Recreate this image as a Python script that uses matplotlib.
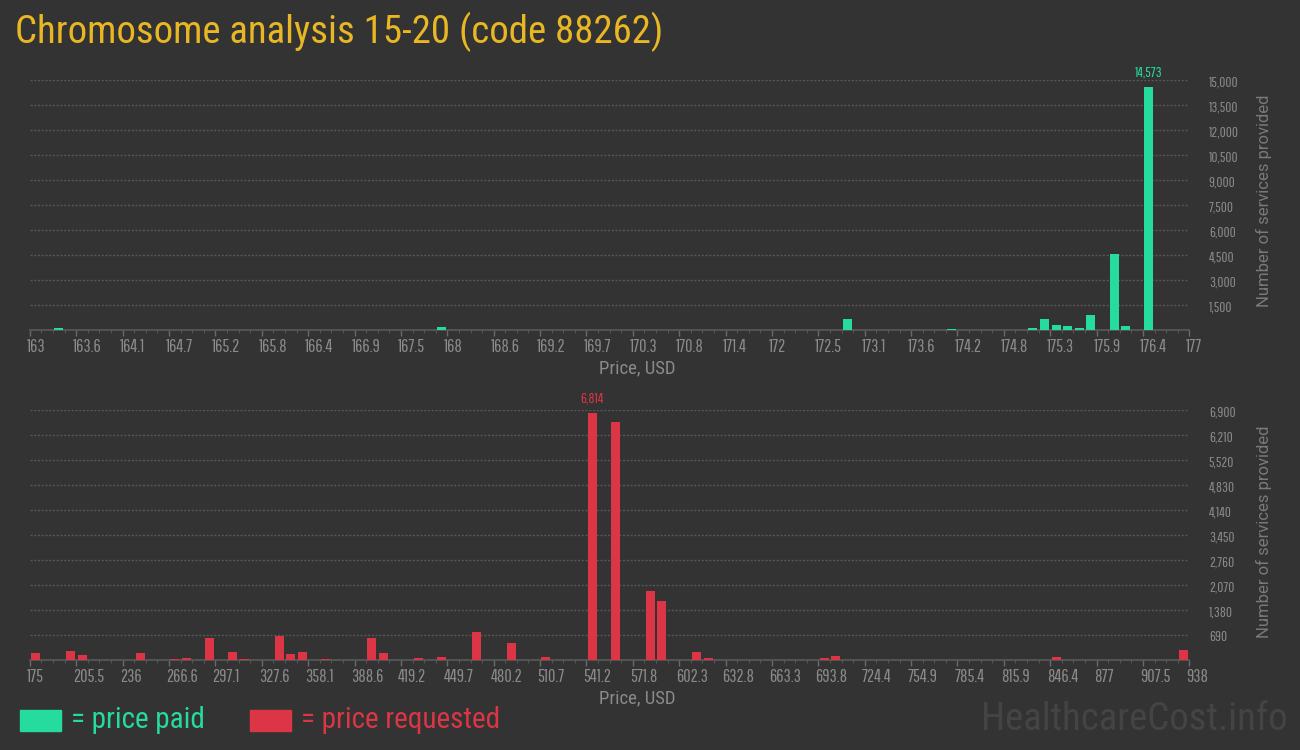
import matplotlib
matplotlib.use('Agg')
import matplotlib.pyplot as plt
import matplotlib.transforms as mtransforms
from matplotlib.ticker import FuncFormatter, FixedLocator
from matplotlib.patches import Rectangle
import numpy as np

# ---- data ----
title = "Chromosome analysis 15-20 (code 88262)"
paid_range = (163.0, 177.0)
paid_prices = [163.35, 167.97, 169.93, 172.73, 172.87, 174.13, 175.11, 175.25,
               175.39, 175.53, 175.67, 175.81, 176.09, 176.23, 176.51]
paid_counts = [140, 200, 40, 40, 680, 100, 140, 680, 320, 260, 140, 920, 4600, 260, 14573]
paid_yticks = [1500, 3000, 4500, 6000, 7500, 9000, 10500, 12000, 13500, 15000]

req_range = (175.0, 938.0)
req_prices = [178.8, 201.7, 209.3, 247.5, 270.4, 278.0, 293.3, 308.5, 316.2, 339.0,
              346.7, 354.3, 369.6, 392.5, 400.1, 407.7, 430.6, 445.9, 461.1, 468.8,
              491.7, 514.5, 545.1, 560.3, 575.6, 583.2, 590.8, 606.1, 613.7, 621.4,
              697.7, 705.3, 728.2, 850.3, 934.2]
req_counts = [202, 258, 147, 202, 37, 64, 616, 230, 45, 672,
              175, 230, 37, 10, 616, 202, 64, 92, 15, 782,
              478, 92, 6814, 6578, 20, 1914, 1638, 20, 230, 64,
              64, 120, 15, 92, 285]
req_yticks = [690, 1380, 2070, 2760, 3450, 4140, 4830, 5520, 6210, 6900]

n_bins = 100
n_major = 25

# ---- style ----
BG = '#333333'
GREEN = '#26DB9E'
RED = '#DC3545'
GOLD = '#E8B723'
GRID = '#575757'
TICKC = '#8a8a8a'
COND = ['Roboto Condensed', 'DejaVu Sans']
THIN = ['Pathway Gothic One', 'Roboto Condensed', 'DejaVu Sans']

fig = plt.figure(figsize=(13, 7.5), dpi=100, facecolor=BG)

def panel(rect, rng, prices, counts, yticks, color):
    ax = fig.add_axes(rect)
    ax.set_facecolor(BG)
    lo, hi = rng
    bw = (hi - lo) / n_bins
    ax.bar(prices, counts, width=bw * 0.78, color=color, zorder=3)
    ax.set_xlim(lo, hi)
    ax.set_ylim(0, yticks[-1])
    for s in ['top', 'left', 'right']:
        ax.spines[s].set_visible(False)
    ax.spines['bottom'].set_color('#5a5a5a')
    ax.spines['bottom'].set_linewidth(1.2)
    major = np.linspace(lo, hi, n_major + 1)
    minor = np.linspace(lo, hi, n_bins + 1)
    ax.xaxis.set_major_locator(FixedLocator(major))
    ax.xaxis.set_minor_locator(FixedLocator(minor))
    ax.xaxis.set_major_formatter(FuncFormatter(lambda v, p: f"{round(v, 1):g}"))
    ax.tick_params(axis='x', which='major', length=4, width=1, color='#6a6a6a',
                   labelcolor=TICKC, labelsize=13, pad=2.5)
    ax.tick_params(axis='x', which='minor', length=2.2, width=0.8, color='#555555')
    off = mtransforms.ScaledTranslation(-3 / 100, 0, fig.dpi_scale_trans)
    for lab in ax.get_xticklabels():
        lab.set_horizontalalignment('left')
        lab.set_fontfamily(THIN)
        lab.set_transform(lab.get_transform() + off)
    ax.yaxis.tick_right()
    ax.set_yticks(yticks)
    ax.yaxis.set_major_formatter(FuncFormatter(lambda v, p: f"{int(v):,}"))
    ax.tick_params(axis='y', length=0, pad=14, labelcolor=TICKC, labelsize=10.5)
    for lab in ax.get_yticklabels():
        lab.set_fontfamily(THIN)
        lab.set_horizontalalignment('left')
    ax.grid(axis='y', color=GRID, linestyle=(0, (1.5, 1.2)), linewidth=1.0, zorder=0)
    # peak label
    i = int(np.argmax(counts))
    ax.annotate(f"{counts[i]:,}", (prices[i], counts[i]), xytext=(0, 6),
                textcoords='offset points', ha='center', va='bottom',
                color=color, fontsize=10.5, family=THIN, annotation_clip=False)
    return ax

ax1 = panel([29.9 / 1300, 1 - 330.3 / 750, 1159.5 / 1300, 250 / 750],
            paid_range, paid_prices, paid_counts, paid_yticks, GREEN)
ax2 = panel([29.9 / 1300, 1 - 660.3 / 750, 1159.5 / 1300, 250 / 750],
            req_range, req_prices, req_counts, req_yticks, RED)

# axis titles
for yc in (368, 698):
    fig.text(637 / 1300, 1 - yc / 750, "Price, USD", ha='center', va='center',
             color='#8a8a8a', fontsize=13.5, family=COND)
for yc in (201, 532):
    fig.text(1264 / 1300, 1 - yc / 750, "Number of services provided", rotation=90,
             ha='center', va='center', color='#7a7a7a', fontsize=12, family=['Roboto', 'DejaVu Sans'])

# title
fig.text(15 / 1300, 1 - 32 / 750, title, ha='left', va='center', color=GOLD,
         fontsize=28, family=COND)

# legend
fig.patches.append(Rectangle((20 / 1300, 1 - 731 / 750), 41 / 1300, 21 / 750,
                             transform=fig.transFigure, color=GREEN))
fig.text(71 / 1300, 1 - 720 / 750, "= price paid", ha='left', va='center', color=GREEN,
         fontsize=21, family=COND)
fig.patches.append(Rectangle((250 / 1300, 1 - 731 / 750), 41 / 1300, 21 / 750,
                             transform=fig.transFigure, color=RED))
fig.text(301 / 1300, 1 - 720 / 750, "= price requested", ha='left', va='center', color=RED,
         fontsize=21, family=COND)

# watermark
fig.text(1288 / 1300, 1 - 720 / 750, "HealthcareCost.info", ha='right', va='center',
         color='#444444', fontsize=28, family=COND)

fig.savefig('out.png', dpi=100, facecolor=BG)
